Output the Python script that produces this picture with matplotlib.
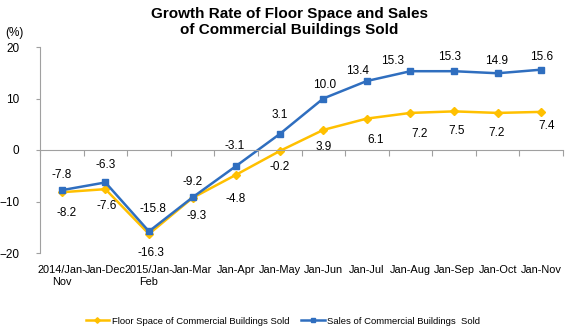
import matplotlib
matplotlib.use("Agg")
import matplotlib.pyplot as plt

plt.rcParams['font.family'] = ['Liberation Sans', 'DejaVu Sans']

categories = ["2014/Jan-\nNov", "Jan-Dec", "2015/Jan-\nFeb", "Jan-Mar", "Jan-Apr", "Jan-May",
              "Jan-Jun", "Jan-Jul", "Jan-Aug", "Jan-Sep", "Jan-Oct", "Jan-Nov"]
floor_space = [-8.2, -7.6, -16.3, -9.3, -4.8, -0.2, 3.9, 6.1, 7.2, 7.5, 7.2, 7.4]
sales = [-7.8, -6.3, -15.8, -9.2, -3.1, 3.1, 10.0, 13.4, 15.3, 15.3, 14.9, 15.6]

# label offsets in pixels (dx, dy)
sales_off = [(0, 15), (0, 17), (4, 22), (0, 15), (-1, 20), (0, 19),
             (1, 14), (-9, 10), (-18, 10), (-4, 14), (-1, 12), (0, 13)]
floor_off = [(5, -21), (1, -17), (2, -19), (4, -18), (0, -24), (0, -16),
             (0, -17), (9, -21), (9, -21), (3, -20), (-1, -20), (5, -14)]

yellow = "#FFC000"
blue = "#2F6EBF"

fig = plt.figure(figsize=(5.79, 3.35), dpi=100)
ax = fig.add_axes([40 / 579, 82 / 335, 523 / 579, 206 / 335])

x = list(range(len(categories)))
ax.plot(x, floor_space, color=yellow, lw=1.8, marker="D", ms=4,
        label="Floor Space of Commercial Buildings Sold")
ax.plot(x, sales, color=blue, lw=1.8, marker="s", ms=4,
        label="Sales of Commercial Buildings  Sold")

for i, v in enumerate(sales):
    ax.annotate(f"{v:.1f}", (i, v), xytext=sales_off[i], textcoords="offset pixels",
                ha="center", va="center", fontsize=8.5)
for i, v in enumerate(floor_space):
    ax.annotate(f"{v:.1f}", (i, v), xytext=floor_off[i], textcoords="offset pixels",
                ha="center", va="center", fontsize=8.5)

ax.set_xlim(-0.5, len(categories) - 0.5)
ax.set_ylim(-20, 20)
ax.set_yticks([-20, -10, 0, 10, 20])
ax.tick_params(axis="y", length=3, color="#A0A0A0", pad=12, labelsize=8.5)

for s in ["top", "right"]:
    ax.spines[s].set_visible(False)
ax.spines["left"].set_color("#A0A0A0")
ax.spines["bottom"].set_color("#A0A0A0")
ax.spines["bottom"].set_position(("data", 0))

ax.set_xticks([i + 0.5 for i in x[:-1]] + [-0.5, 11.5])
ax.set_xticklabels([])
ax.tick_params(axis="x", length=4, color="#A0A0A0", direction="out")
for i, c in enumerate(categories):
    ax.text(i, -0.06, c, transform=ax.get_xaxis_transform(), ha="center", va="top",
            fontsize=7.9, linespacing=1.2)

fig.text(14 / 579, 1 - 33 / 335, "(%)", fontsize=8.5, ha="center", va="center")
fig.text(0.5, 1 - 22 / 335, "Growth Rate of Floor Space and Sales\nof Commercial Buildings Sold",
         ha="center", va="center", fontsize=11, fontweight="bold", linespacing=1.15)

fig.legend(loc="center", bbox_to_anchor=(283 / 579, 1 - 321 / 335), ncol=2, frameon=False,
           fontsize=6.8, handlelength=2.5, columnspacing=1.2, handletextpad=0.3,
           markerscale=0.7)

fig.savefig("out.png", dpi=100)
